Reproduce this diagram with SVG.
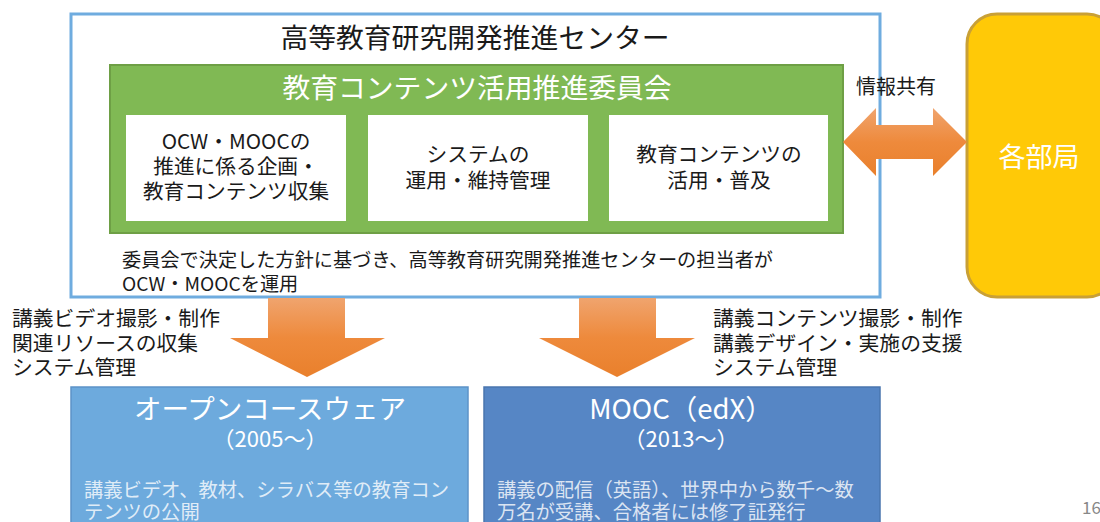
<svg xmlns="http://www.w3.org/2000/svg" width="1100" height="522" viewBox="0 0 1100 522">
<defs>
<linearGradient id="og" x1="0" y1="0" x2="0" y2="1">
<stop offset="0" stop-color="#F0A46E"/>
<stop offset="0.5" stop-color="#EE8A3C"/>
<stop offset="1" stop-color="#E9802C"/>
</linearGradient>
<style>
text{font-family:"Noto Sans CJK JP","Noto Sans",sans-serif;}
.dk{fill:#1a1a1a;}
.wt{fill:#ffffff;}
.mid{text-anchor:middle;}
.wbox{fill:#ffffff;}
.arrow{fill:url(#og);}
.body{fill:#ffffff;fill-opacity:0.8;font-size:19.3px;}
.lab{font-size:20.8px;}
.box{font-size:20.7px;}
</style>
</defs>
<rect width="1100" height="522" fill="#ffffff"/>

<g id="center">
<rect x="71" y="14" width="809" height="283" fill="#ffffff" stroke="#6FACDF" stroke-width="3"/>
<text class="dk mid" x="475" y="48" font-size="27.8">高等教育研究開発推進センター</text>
<text class="dk" x="122" y="267" font-size="19.2">委員会で決定した方針に基づき、高等教育研究開発推進センターの担当者が</text>
<text class="dk" x="122" y="291" font-size="19.2">OCW・MOOCを運用</text>
</g>

<g id="committee">
<rect x="110" y="65" width="733" height="168" fill="#80B954" stroke="#6E9F45" stroke-width="2"/>
<text class="wt mid" x="477" y="98" font-size="27.8">教育コンテンツ活用推進委員会</text>
</g>

<g id="task1">
<rect class="wbox" x="126" y="115" width="220" height="106"/>
<text class="dk mid box" x="236" y="149">OCW・MOOCの</text>
<text class="dk mid box" x="236" y="174">推進に係る企画・</text>
<text class="dk mid box" x="236" y="199">教育コンテンツ収集</text>
</g>
<g id="task2">
<rect class="wbox" x="368" y="115" width="220" height="106"/>
<text class="dk mid box" x="478" y="162">システムの</text>
<text class="dk mid box" x="478" y="188">運用・維持管理</text>
</g>
<g id="task3">
<rect class="wbox" x="609" y="115" width="219" height="106"/>
<text class="dk mid box" x="719" y="162">教育コンテンツの</text>
<text class="dk mid box" x="719" y="188">活用・普及</text>
</g>

<g id="departments">
<rect x="967" y="14" width="150" height="283" rx="30" ry="30" fill="#FFC907" stroke="#C9A036" stroke-width="3"/>
<text class="wt mid" x="1039" y="167" font-size="27">各部局</text>
</g>

<g id="ocw">
<rect x="71" y="387" width="397" height="140" fill="#6DAADD" stroke="#5C93C8" stroke-width="1.5"/>
<text class="wt mid" x="270" y="419" font-size="27.5">オープンコースウェア</text>
<text class="wt mid" x="270" y="447" font-size="22">（2005～）</text>
<text class="body" x="84" y="497">講義ビデオ、教材、シラバス等の教育コン</text>
<text class="body" x="84" y="519">テンツの公開</text>
</g>

<g id="mooc">
<rect x="484" y="387" width="396" height="140" fill="#5686C5" stroke="#4A76AF" stroke-width="1.5"/>
<text class="wt mid" x="681" y="419" font-size="27.5">MOOC（edX）</text>
<text class="wt mid" x="681" y="447" font-size="22">（2013～）</text>
<text class="body" x="497" y="497">講義の配信（英語）、世界中から数千～数</text>
<text class="body" x="497" y="519">万名が受講、合格者には修了証発行</text>
</g>

<g id="connectors">
<polygon class="arrow" points="843,142 876,108 876,125 933,125 933,108 967,142 933,176 933,159 876,159 876,176"/>
<polygon class="arrow" points="268,298 345,298 345,338 385,338 307,377 230,338 268,338"/>
<polygon class="arrow" points="579,298 656,298 656,338 695,338 617,377 539,338 579,338"/>
</g>

<g id="labels">
<text class="dk" x="856" y="94" font-size="20">情報共有</text>
<text class="dk lab" x="12" y="326">講義ビデオ撮影・制作</text>
<text class="dk lab" x="12" y="351">関連リソースの収集</text>
<text class="dk lab" x="12" y="375">システム管理</text>
<text class="dk lab" x="713" y="326">講義コンテンツ撮影・制作</text>
<text class="dk lab" x="713" y="351">講義デザイン・実施の支援</text>
<text class="dk lab" x="713" y="375">システム管理</text>
<text x="1082" y="514" font-size="17" fill="#888888">16</text>
</g>
</svg>
